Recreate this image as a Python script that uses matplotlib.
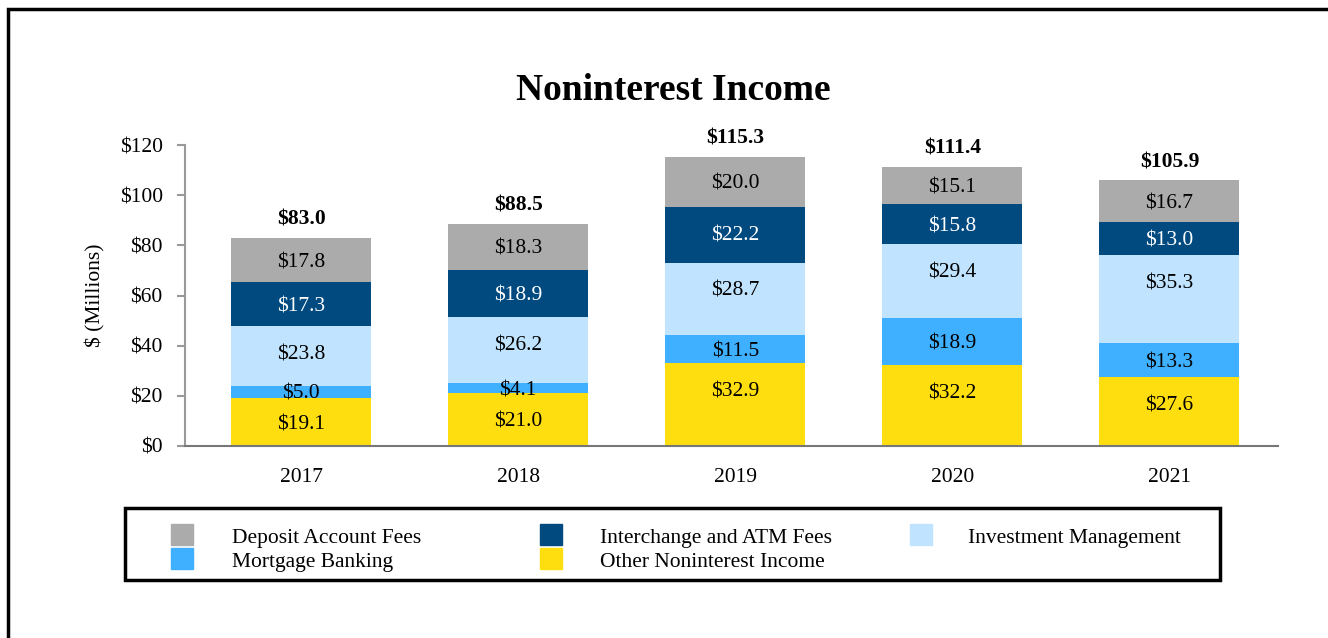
import numpy as np
import matplotlib.pyplot as plt
from matplotlib.patches import Rectangle

years = ["2017", "2018", "2019", "2020", "2021"]
series = ["Other Noninterest Income", "Mortgage Banking", "Investment Management",
          "Interchange and ATM Fees", "Deposit Account Fees"]
other = [19.1, 21.0, 32.9, 32.2, 27.6]
mortgage = [5.0, 4.1, 11.5, 18.9, 13.3]
investment = [23.8, 26.2, 28.7, 29.4, 35.3]
interchange = [17.3, 18.9, 22.2, 15.8, 13.0]
deposit = [17.8, 18.3, 20.0, 15.1, 16.7]
totals = [83.0, 88.5, 115.3, 111.4, 105.9]

colors = {"Deposit Account Fees": "#ababab",
          "Interchange and ATM Fees": "#004a7f",
          "Investment Management": "#c0e4ff",
          "Mortgage Banking": "#3fafff",
          "Other Noninterest Income": "#ffde0f"}
text_colors = {"Interchange and ATM Fees": "white"}

plt.rcParams['font.family'] = ['Liberation Serif', 'DejaVu Serif']
FS = 15.5

fig = plt.figure(figsize=(13.28, 6.38), dpi=100)
ax = fig.add_axes([185/1328, 1-446/638, (1278-185)/1328, (446-145)/638])

x = np.arange(len(years))
bottom = np.zeros(len(years))
for name, vals in zip(series, [other, mortgage, investment, interchange, deposit]):
    vals = np.array(vals)
    ax.bar(x, vals, 0.645, bottom=bottom, color=colors[name], zorder=2)
    # label sits in the middle, but never more than ~10 units below the segment top
    for xi, b, v in zip(x, bottom, vals):
        ly = max(b + v / 2, b + v - 10.5)
        ax.text(xi, ly, f"${v:.1f}", ha="center", va="center_baseline", fontsize=FS,
                color=text_colors.get(name, "black"), zorder=3)
    bottom += vals

for xi, t in zip(x, totals):
    ax.annotate(f"${t:.1f}", (xi, t), xytext=(0, 15), textcoords="offset points",
                ha="center", va="center_baseline", fontsize=FS, fontweight="bold")

ax.set_xlim(-0.535, 4.5)
ax.set_ylim(0, 120)
ax.set_yticks(range(0, 121, 20))
ax.set_yticklabels([f"${v}" for v in range(0, 121, 20)], fontsize=FS)
ax.set_xticks(x)
ax.set_xticklabels(years, fontsize=FS)
ax.tick_params(axis="x", length=0, pad=16)
ax.tick_params(axis="y", length=6, color="#999999", width=1.5, pad=10)
for s in ["top", "right"]:
    ax.spines[s].set_visible(False)
ax.spines["left"].set_color("#999999")
ax.spines["left"].set_linewidth(1.5)
ax.spines["bottom"].set_color("#777777")
ax.spines["bottom"].set_linewidth(1.5)
ax.set_ylabel("$ (Millions)", fontsize=FS, labelpad=10)

fig.text(673/1328, 1-91/638, "Noninterest Income", ha="center", va="center",
         fontsize=27, fontweight="bold")

# outer frame
fig.add_artist(Rectangle((8/1328, -0.2), 2, 1.2 - 9/638, transform=fig.transFigure,
                         fill=False, edgecolor="black", linewidth=2.5))

# legend box
fig.add_artist(Rectangle((125/1328, 1-580/638), (1220-125)/1328, (580-508)/638,
                         transform=fig.transFigure, fill=False, edgecolor="black",
                         linewidth=2.5))
legend_order = ["Deposit Account Fees", "Interchange and ATM Fees", "Investment Management",
                "Mortgage Banking", "Other Noninterest Income"]
col_x = [171, 540, 910]
text_x = [232, 600, 968]
row_y = [534, 558]
for i, name in enumerate(legend_order):
    r, c = divmod(i, 3)
    fig.add_artist(Rectangle((col_x[c]/1328, 1-(row_y[r]+11)/638), 22/1328, 21/638,
                             transform=fig.transFigure, color=colors[name]))
    fig.text(text_x[c]/1328, 1-(row_y[r]+2)/638, name, ha="left", va="center_baseline",
             fontsize=FS)

fig.savefig("out.png", dpi=100)
